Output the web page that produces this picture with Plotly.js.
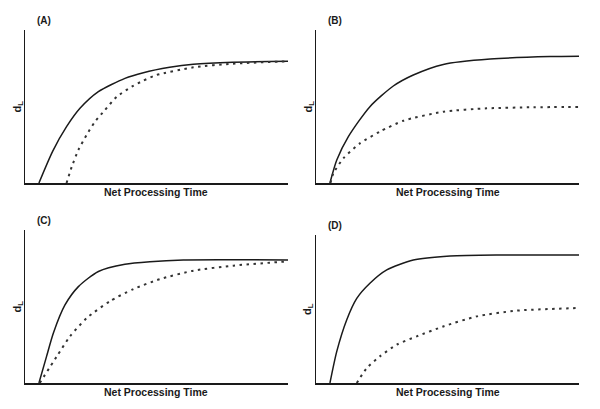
<!DOCTYPE html>
<html>
<head>
<meta charset="utf-8">
<script src="https://cdn.plot.ly/plotly-3.0.1.min.js"></script>
<style>html,body{margin:0;padding:0;background:#fff;}#chart{width:600px;height:409px;}</style>
</head>
<body>
<div id="chart"></div>
<script>
// Panel labels and axis titles
const panelLabels = ["(A)", "(B)", "(C)", "(D)"];
const xTitle = "Net Processing Time";
const yTitle = "d<sub>L</sub>";

// Panel A
const aSolidX = [5.3, 10.6, 15.8, 20.9, 27.9, 38, 45, 55, 64, 79, 100];
const aSolidY = [0, 21, 36.8, 48.8, 59.7, 68.4, 72.1, 75.6, 77.6, 78.9, 79.5];
const aDotX = [15.8, 17.8, 20.3, 23.4, 26.6, 30.4, 34.9, 40.6, 45, 50, 64, 79, 100];
const aDotY = [0, 10.7, 21.6, 31.4, 40, 47.7, 56.4, 63, 66.9, 70.6, 75.6, 78, 79.5];

// Panel B
const bSolidX = [5.3, 7.9, 12.3, 20.5, 29.4, 37, 48.4, 66.2, 89, 100];
const bSolidY = [0, 15, 30.3, 49.9, 63.4, 70.6, 77.5, 81, 82.6, 82.8];
const bDotX = [5.5, 6.6, 10.4, 16.7, 24.3, 33.2, 48.4, 64.9, 82.6, 100];
const bDotY = [0, 6.3, 16.1, 25.9, 33.6, 40.7, 46.6, 48.8, 49.5, 49.7];

// Panel C
const cSolidX = [5.3, 8.2, 10.8, 15.2, 20.3, 27.9, 38, 47.5, 60.2, 100];
const cSolidY = [0, 17.4, 32.7, 51, 63, 72.9, 77.6, 79.3, 80.4, 80.4];
const cDotX = [5.6, 12.1, 17.1, 23.5, 32.3, 41.2, 51.3, 64, 79.2, 100];
const cDotY = [0, 17.4, 30.5, 42.5, 53.5, 61.4, 67.9, 73.4, 76.7, 79.5];

// Panel D
const dSolidX = [5.3, 7.9, 11.7, 15.5, 20.5, 26.9, 37, 51, 70, 100];
const dSolidY = [0, 21.4, 42.8, 57.2, 67.4, 76.4, 83.1, 85.8, 86.5, 86.5];
const dDotX = [15.5, 19.3, 24.3, 30.7, 38.3, 48.4, 61.1, 76.3, 100];
const dDotY = [0, 10.1, 18, 25.9, 31.5, 38.2, 45, 48.9, 50.7];

const panels = [
  {sx: aSolidX, sy: aSolidY, dx: aDotX, dy: aDotY, xd: [25/600, 288/600], yd: [1-183/409, 1-30/409]},
  {sx: bSolidX, sy: bSolidY, dx: bDotX, dy: bDotY, xd: [316/600, 579/600], yd: [1-183/409, 1-30/409]},
  {sx: cSolidX, sy: cSolidY, dx: cDotX, dy: cDotY, xd: [25/600, 288/600], yd: [1-383/409, 1-230/409]},
  {sx: dSolidX, sy: dSolidY, dx: dDotX, dy: dDotY, xd: [316/600, 579/600], yd: [1-383/409, 1-235/409]}
];

const ink = "#1a1a1a";
const traces = [];
const layout = {
  width: 600, height: 409,
  margin: {l: 0, r: 0, t: 0, b: 0},
  paper_bgcolor: "#fff", plot_bgcolor: "#fff",
  showlegend: false,
  annotations: []
};
const font = {family: "Liberation Sans, Arial, sans-serif", color: ink};

panels.forEach((p, i) => {
  const n = i + 1;
  const xa = "x" + (n === 1 ? "" : n), ya = "y" + (n === 1 ? "" : n);
  traces.push({x: p.sx, y: p.sy, xaxis: xa, yaxis: ya, mode: "lines",
    line: {color: ink, width: 1.5, shape: "spline", smoothing: 0.7}, hoverinfo: "skip"});
  traces.push({x: p.dx, y: p.dy, xaxis: xa, yaxis: ya, mode: "lines",
    line: {color: "#333", width: 2, dash: "2.5px,4.5px", shape: "spline", smoothing: 0.6}, hoverinfo: "skip"});
  const axBase = {showgrid: false, zeroline: false, showticklabels: false, ticks: "",
    showline: true, linecolor: ink, linewidth: 1.5, fixedrange: true};
  layout["xaxis" + (n === 1 ? "" : n)] = Object.assign({}, axBase, {domain: p.xd, range: [0, 100], anchor: ya});
  layout["yaxis" + (n === 1 ? "" : n)] = Object.assign({}, axBase, {domain: p.yd, range: [0, 100], anchor: xa});
  const xmid = (p.xd[0] + p.xd[1]) / 2;
  const ymid = (p.yd[0] + p.yd[1]) / 2;
  layout.annotations.push({text: "<b>" + panelLabels[i] + "</b>", xref: "paper", yref: "paper",
    x: p.xd[0] + 10/600, y: p.yd[1] + 10/409, xanchor: "left", yanchor: "middle",
    showarrow: false, font: Object.assign({}, font, {size: 10})});
  layout.annotations.push({text: "<b>" + xTitle + "</b>", xref: "paper", yref: "paper",
    x: xmid, y: p.yd[0] - 9/409, xanchor: "center", yanchor: "middle",
    showarrow: false, font: Object.assign({}, font, {size: 10.5})});
  layout.annotations.push({text: "<b>" + yTitle + "</b>", xref: "paper", yref: "paper",
    x: p.xd[0] - 8/600, y: ymid, xanchor: "center", yanchor: "middle", textangle: -90,
    showarrow: false, font: Object.assign({}, font, {size: 11})});
});

Plotly.newPlot("chart", traces, layout, {staticPlot: true, displayModeBar: false});
</script>
</body>
</html>
